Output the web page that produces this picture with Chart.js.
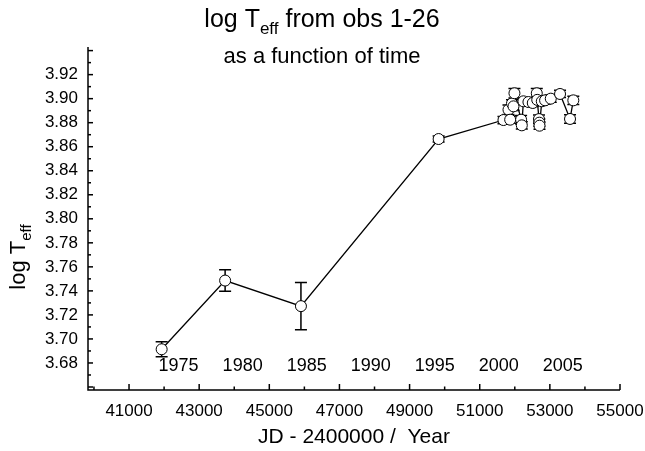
<!DOCTYPE html>
<html>
<head>
<meta charset="utf-8">
<script src="https://cdn.jsdelivr.net/npm/chart.js@4.4.1/dist/chart.umd.min.js"></script>
<style>
  html, body { margin: 0; padding: 0; background: #fff; }
  canvas { display: block; }
</style>
</head>
<body>
<canvas id="myChart" width="645" height="451"></canvas>
<script>
/* observation dates (JD - 2400000) */
const jd = [41930, 43740, 45902, 49828, 51677, 51820, 51868, 51920, 51963, 51990,
  52180, 52200, 52246, 52389, 52513, 52627, 52640, 52690, 52700, 52705,
  52770, 52864, 53026, 53290, 53575, 53669];
/* log Teff */
const logTeff = [3.6914, 3.7486, 3.7273, 3.8664, 3.8822, 3.8908, 3.8825, 3.8960, 3.8936, 3.9045,
  3.8825, 3.8778, 3.8978, 3.8972, 3.8964, 3.9045, 3.8990, 3.8830, 3.8800, 3.8775,
  3.8978, 3.8986, 3.9000, 3.9039, 3.8831, 3.8986];
/* error bars (+/-) */
const errs = [0.0063, 0.0090, 0.0196, 0.0025, 0.0030, 0.0040, 0.0030, 0.0030, 0.0035, 0.0040,
  0.0035, 0.0030, 0.0030, 0.0030, 0.0030, 0.0040, 0.0030, 0.0035, 0.0030, 0.0030,
  0.0030, 0.0030, 0.0030, 0.0030, 0.0035, 0.0035];
/* tick positions: labelled at odd thousands / even hundredths */
const xTicks = [40000, 41000, 42000, 43000, 44000, 45000, 46000, 47000,
  48000, 49000, 50000, 51000, 52000, 53000, 54000, 55000];
const yTicks = [3.66, 3.67, 3.68, 3.69, 3.70, 3.71, 3.72, 3.73, 3.74, 3.75, 3.76, 3.77,
  3.78, 3.79, 3.80, 3.81, 3.82, 3.83, 3.84, 3.85, 3.86, 3.87, 3.88, 3.89,
  3.90, 3.91, 3.92, 3.93, 3.94];
/* year labels shown inside the plot */
const years = [1975, 1980, 1985, 1990, 1995, 2000, 2005];

const font = 'Liberation Sans, Arial, Helvetica, sans-serif';

function yearToJd(y){
  return 51544.5 + (y - 2000) * 365.25;
}
function xMajor(v){ return Math.round(v / 1000) % 2 === 1; }
function yMajor(v){ return Math.round(v * 100) % 2 === 0 && v > 3.67 && v < 3.93; }

const points = jd.map(function(x, i){ return {x: x, y: logTeff[i]}; });

/* axes, tick marks, error bars, titles */
const decor = {
  id: 'decor',
  beforeDatasetsDraw: function(chart){
    const ctx = chart.ctx;
    const xs = chart.scales.x, ys = chart.scales.y;
    ctx.save();
    ctx.strokeStyle = '#000';
    ctx.lineWidth = 1.5;
    jd.forEach(function(x, i){
      const px = xs.getPixelForValue(x);
      const top = ys.getPixelForValue(logTeff[i] + errs[i]);
      const bot = ys.getPixelForValue(logTeff[i] - errs[i]);
      ctx.beginPath();
      ctx.moveTo(px, top); ctx.lineTo(px, bot);
      ctx.moveTo(px - 6, top); ctx.lineTo(px + 6, top);
      ctx.moveTo(px - 6, bot); ctx.lineTo(px + 6, bot);
      ctx.stroke();
    });
    ctx.restore();
  },
  afterDraw: function(chart){
    const ctx = chart.ctx;
    const a = chart.chartArea;
    const xs = chart.scales.x, ys = chart.scales.y;
    ctx.save();
    ctx.strokeStyle = '#000';
    ctx.fillStyle = '#000';

    /* axis lines */
    ctx.lineWidth = 1.5;
    ctx.beginPath();
    ctx.moveTo(a.left, a.top); ctx.lineTo(a.left, a.bottom); ctx.lineTo(a.right, a.bottom);
    ctx.stroke();

    /* x tick marks, pointing inward */
    xTicks.forEach(function(v){
      const px = xs.getPixelForValue(v);
      ctx.beginPath();
      ctx.moveTo(px, a.bottom);
      ctx.lineTo(px, a.bottom - (xMajor(v) || v === 55000 ? 6 : 3.5));
      ctx.stroke();
    });

    /* y tick marks */
    yTicks.forEach(function(v){
      const py = ys.getPixelForValue(v);
      if(py < a.top - 0.5 || py > a.bottom + 0.5) return;
      ctx.beginPath();
      ctx.moveTo(a.left, py);
      ctx.lineTo(a.left + (Math.round(v * 100) % 2 === 0 ? 5 : 3), py);
      ctx.stroke();
    });

    /* year labels */
    ctx.font = '18px ' + font;
    ctx.textAlign = 'center';
    ctx.textBaseline = 'middle';
    years.forEach(function(y){
      ctx.fillText(String(y), xs.getPixelForValue(yearToJd(y)), ys.getPixelForValue(3.68) + 3);
    });

    /* text with a subscript */
    function subText(parts, cx, cy, big, small){
      let w = 0;
      parts.forEach(function(p){
        ctx.font = (p.sub ? small : big) + 'px ' + font;
        w += ctx.measureText(p.t).width;
      });
      let x = cx - w / 2;
      ctx.textAlign = 'left';
      ctx.textBaseline = 'alphabetic';
      parts.forEach(function(p){
        ctx.font = (p.sub ? small : big) + 'px ' + font;
        ctx.fillText(p.t, x, cy + (p.sub ? big * 0.28 : 0));
        x += ctx.measureText(p.t).width;
      });
    }
    subText([{t: 'log T'}, {t: 'eff', sub: true}, {t: ' from obs 1-26'}], 322, 27, 25, 17);

    ctx.font = '22px ' + font;
    ctx.textAlign = 'center';
    ctx.textBaseline = 'middle';
    ctx.fillText('as a function of time', 322, 57);

    ctx.font = '21px ' + font;
    ctx.fillText('JD - 2400000 /  Year', (a.left + a.right) / 2, 437);

    /* y title, rotated */
    ctx.save();
    ctx.translate(25, 257);
    ctx.rotate(-Math.PI / 2);
    subText([{t: 'log T'}, {t: 'eff', sub: true}], 0, 0, 22, 15);
    ctx.restore();

    ctx.restore();
  }
};

const ctx = document.getElementById('myChart').getContext('2d');
const chart = new Chart(ctx, {
  type: 'scatter',
  data: {
    datasets: [{
      label: 'log Teff',
      data: points,
      showLine: true,
      borderColor: '#000',
      borderWidth: 1.3,
      pointRadius: 5.5,
      pointHoverRadius: 5.5,
      pointBackgroundColor: '#fff',
      pointBorderColor: '#000',
      pointBorderWidth: 1,
      tension: 0,
    }],
  },
  options: {
    responsive: false,
    animation: false,
    devicePixelRatio: 1,
    layout: {padding: {top: 47, right: 25, left: 0, bottom: 0}},
    plugins: {legend: {display: false}, tooltip: {enabled: false}, title: {display: false}},
    scales: {
      x: {
        type: 'linear',
        min: 39830,
        max: 55000,
        grid: {display: false, drawTicks: false},
        border: {display: false},
        afterFit: function(s){
          s.height = 61;
          s.paddingLeft = 0;
          s.paddingRight = 0;
        },
        afterBuildTicks: function(s){
          s.ticks = xTicks.map(function(v){ return {value: v}; });
        },
        ticks: {
          autoSkip: false,
          maxRotation: 0,
          padding: 11,
          color: '#000',
          font: {family: font, size: 17},
          callback: function(v){ return xMajor(v) ? String(v) : ''; },
        },
      },
      y: {
        min: 3.6575,
        max: 3.943,
        grid: {display: false, drawTicks: false},
        border: {display: false},
        afterFit: function(s){
          s.width = 88;
          s.paddingTop = 0;
          s.paddingBottom = 0;
        },
        afterBuildTicks: function(s){
          s.ticks = yTicks.map(function(v){ return {value: v}; });
        },
        ticks: {
          autoSkip: false,
          padding: 10,
          color: '#000',
          font: {family: font, size: 17},
          callback: function(v){ return yMajor(v) ? v.toFixed(2) : ''; },
        },
      },
    },
  },
  plugins: [decor],
});
</script>
</body>
</html>
